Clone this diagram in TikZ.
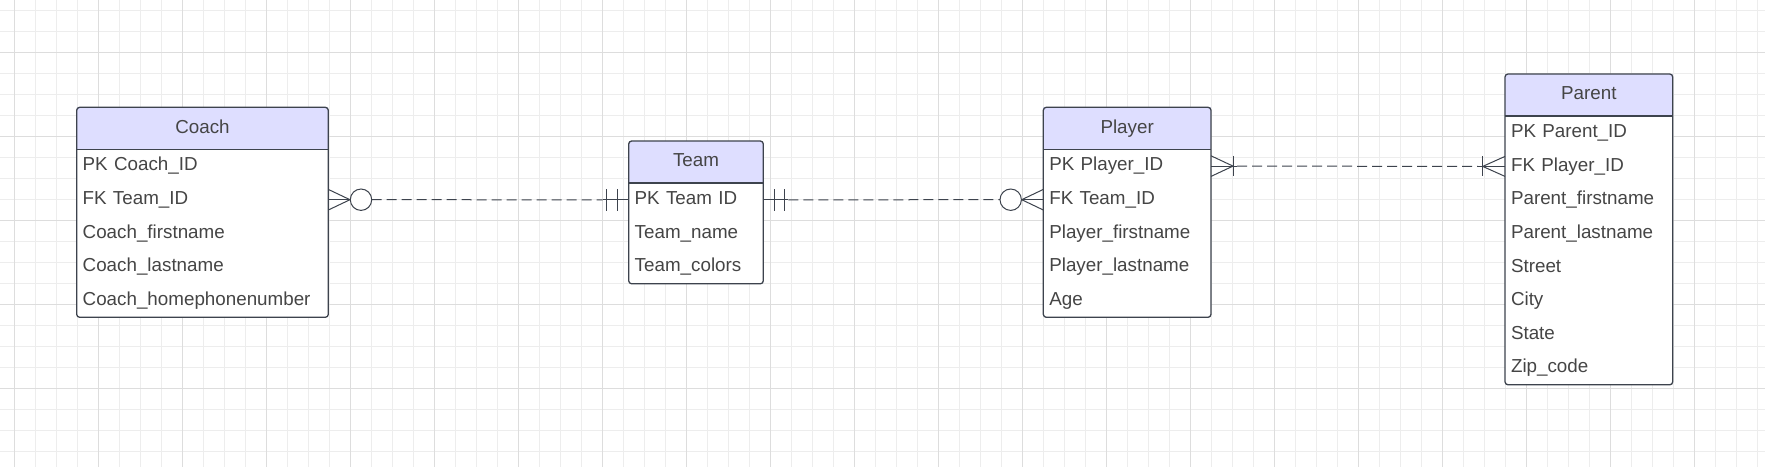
\documentclass[tikz,border=0pt]{standalone}
\usepackage{fontspec}
\setmainfont{Liberation Sans}
\usetikzlibrary{positioning}

\definecolor{hdrfill}{HTML}{DEDEFF}
\definecolor{boxline}{HTML}{3D434D}
\definecolor{txtgray}{HTML}{454545}
\definecolor{gridminor}{HTML}{EDEDED}
\definecolor{gridmajor}{HTML}{DDDDDD}

\tikzset{
  hdr/.style={rectangle, fill=hdrfill, text=txtgray, anchor=north west,
    minimum height=21pt, inner sep=0pt, outer sep=0pt, text height=6.8pt, text depth=2pt,
    font=\fontsize{9.4}{11}\selectfont},
  row/.style={rectangle, fill=white, text=txtgray, text width=#1, align=left,
    minimum height=16.8pt, inner xsep=3pt, inner ysep=0pt, outer sep=0pt,
    text height=6.8pt, text depth=2pt, font=\fontsize{9.4}{11}\selectfont},
  row/.default=77.85pt,
  frame/.style={draw=boxline, line width=0.65pt, rounded corners=1.5pt},
  relline/.style={draw=boxline, line width=0.5pt, dash pattern=on 5pt off 2.5pt},
  relmark/.style={draw=boxline, line width=0.5pt},
}

\begin{document}
\begin{tikzpicture}[x=0.5pt, y=-0.5pt]
    \useasboundingbox (0,0) rectangle (1765,467);
    \fill[white] (0,0) rectangle (1765,467);

    % Griglia
    \foreach \gx in {14.3,35.3,...,1765} \draw[gridminor, line width=0.5pt] (\gx,0) -- (\gx,467);
    \foreach \gy in {10.7,31.7,...,467} \draw[gridminor, line width=0.5pt] (0,\gy) -- (1765,\gy);
    \foreach \gx in {14.3,98.3,...,1765} \draw[gridmajor, line width=0.5pt] (\gx,0) -- (\gx,467);
    \foreach \gy in {52.7,136.7,...,467} \draw[gridmajor, line width=0.5pt] (0,\gy) -- (1765,\gy);

    % Coach
    \node[hdr, minimum width=125.8pt] (coach) at (76.7,107.3) {Coach};
    \node[row=119.8pt, below=0pt of coach] (coachpk) {PK Coach\_ID};
    \node[row=119.8pt, below=0pt of coachpk] (coachfk) {FK Team\_ID};
    \node[row=119.8pt, below=0pt of coachfk] (coachfirst) {Coach\_firstname};
    \node[row=119.8pt, below=0pt of coachfirst] (coachlast) {Coach\_lastname};
    \node[row=119.8pt, below=0pt of coachlast] (coachphone) {Coach\_homephonenumber};
    \draw[relmark, line width=0.65pt] (coach.south west) -- (coach.south east);
    \draw[frame] (coach.north west) rectangle (coachphone.south east);

    % Team
    \node[hdr, minimum width=67.3pt] (team) at (628.7,141) {Team};
    \node[row=61.3pt, below=0pt of team] (teampk) {PK Team ID};
    \node[row=61.3pt, below=0pt of teampk] (teamname) {Team\_name};
    \node[row=61.3pt, below=0pt of teamname] (teamcolors) {Team\_colors};
    \draw[relmark, line width=0.65pt] (team.south west) -- (team.south east);
    \draw[frame] (team.north west) rectangle (teamcolors.south east);

    % Player
    \node[hdr, minimum width=83.85pt] (player) at (1043.3,107.3) {Player};
    \node[row, below=0pt of player] (playerpk) {PK Player\_ID};
    \node[row, below=0pt of playerpk] (playerfk) {FK Team\_ID};
    \node[row, below=0pt of playerfk] (playerfirst) {Player\_firstname};
    \node[row, below=0pt of playerfirst] (playerlast) {Player\_lastname};
    \node[row, below=0pt of playerlast] (playerage) {Age};
    \draw[relmark, line width=0.65pt] (player.south west) -- (player.south east);
    \draw[frame] (player.north west) rectangle (playerage.south east);

    % Parent
    \node[hdr, minimum width=83.85pt] (parent) at (1505,74) {Parent};
    \node[row, below=0pt of parent] (parentpk) {PK Parent\_ID};
    \node[row, below=0pt of parentpk] (parentfk) {FK Player\_ID};
    \node[row, below=0pt of parentfk] (parentfirst) {Parent\_firstname};
    \node[row, below=0pt of parentfirst] (parentlast) {Parent\_lastname};
    \node[row, below=0pt of parentlast] (parentstreet) {Street};
    \node[row, below=0pt of parentstreet] (parentcity) {City};
    \node[row, below=0pt of parentcity] (parentstate) {State};
    \node[row, below=0pt of parentstate] (parentzip) {Zip\_code};
    \draw[relmark, line width=0.65pt] (parent.south west) -- (parent.south east);
    \draw[frame] (parent.north west) rectangle (parentzip.south east);

    % Relazioni
    \draw[relline] ([xshift=21.7pt]coachfk.east) -- ([xshift=-13pt]teampk.west); % Coach - Team
    \draw[relmark] (coachfk.east) ++(0,-10.3) -- ++(21.7,10.3) -- ++(-21.7,10.3);
    \draw[relmark] (coachfk.east) -- ++(21.7,0);
    \draw[relmark, fill=white] (coachfk.east) ++(32.7,0) circle[radius=5.35pt];
    \draw[relmark] ([xshift=-13pt]teampk.west) -- (teampk.west);
    \draw[relmark] (teampk.west) ++(-22,-10.8) -- ++(0,21.6);
    \draw[relmark] (teampk.west) ++(-11.4,-10.8) -- ++(0,21.6);

    \draw[relline] ([xshift=12.5pt]teampk.east) -- ([xshift=-21.6pt]playerfk.west); % Team - Player
    \draw[relmark] (teampk.east) -- ++(25,0);
    \draw[relmark] (teampk.east) ++(10.7,-10.8) -- ++(0,21.6);
    \draw[relmark] (teampk.east) ++(21,-10.8) -- ++(0,21.6);
    \draw[relmark] (playerfk.west) ++(0,-10.3) -- ++(-21.6,10.3) -- ++(21.6,10.3);
    \draw[relmark] (playerfk.west) -- ++(-21.6,0);
    \draw[relmark, fill=white] (playerfk.west) ++(-32.6,0) circle[radius=5.35pt];

    \draw[relline] ([xshift=13pt]playerpk.east) -- ([xshift=-13.5pt]parentfk.west); % Player - Parent
    \draw[relmark] (playerpk.east) ++(0,-10.3) -- ++(22,10.3) -- ++(-22,10.3);
    \draw[relmark] (playerpk.east) -- ++(26,0);
    \draw[relmark] (playerpk.east) ++(22,-10.3) -- ++(0,20.6);
    \draw[relmark] (parentfk.west) ++(0,-10) -- ++(-22.3,10) -- ++(22.3,10);
    \draw[relmark] (parentfk.west) -- ++(-27,0);
    \draw[relmark] (parentfk.west) ++(-22.3,-10) -- ++(0,20);

\end{tikzpicture}
\end{document}
